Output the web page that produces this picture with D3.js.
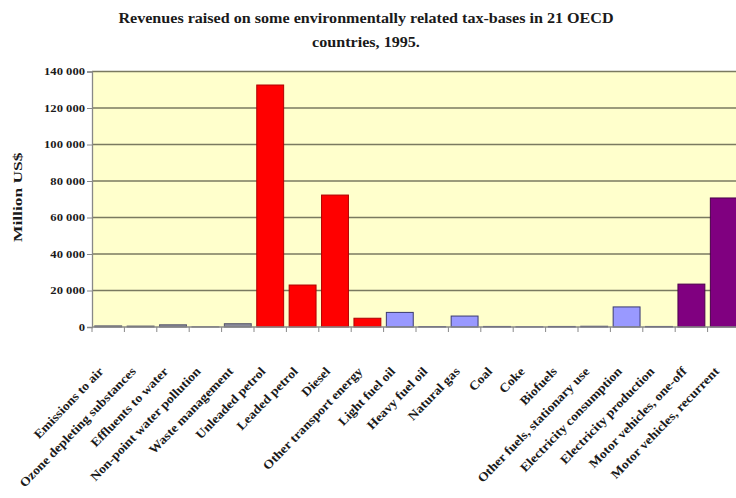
<!DOCTYPE html>
<html>
<head>
<meta charset="utf-8">
<script src="https://cdn.jsdelivr.net/npm/d3@7"></script>
<style>
  html, body { margin: 0; padding: 0; background: #ffffff; }
  svg { display: block; }
  text { font-family: "Liberation Serif", "Times New Roman", serif; font-weight: bold; fill: #1a1a1a; }
</style>
</head>
<body>
<svg id="chart" width="736" height="498"></svg>
<script>
// Tax bases (x categories)
const categories = [
  "Emissions to air", "Ozone depleting substances", "Effluents to water",
  "Non-point  water pollution", "Waste management", "Unleaded petrol",
  "Leaded petrol", "Diesel", "Other transport energy", "Light fuel oil",
  "Heavy fuel oil", "Natural gas", "Coal", "Coke", "Biofuels",
  "Other fuels, stationary use", "Electricity consumption",
  "Electricity production", "Motor vehicles, one-off", "Motor vehicles, recurrent"
];

// Revenues, million US$
const revenues = [
  600, 500, 1200, 100, 1800, 132600,
  23000, 72300, 4800, 8000,
  200, 6000, 300, 100, 300,
  400, 11000,
  300, 23500, 70700
];

// Group of each tax base, used for bar colour
const groups = [
  "pollution", "pollution", "pollution", "pollution", "pollution", "transport",
  "transport", "transport", "transport", "stationary",
  "stationary", "stationary", "stationary", "stationary", "stationary",
  "stationary", "stationary",
  "stationary", "vehicles", "vehicles"
];

const yTicks = [0, 20000, 40000, 60000, 80000, 100000, 120000, 140000];

const titleLines = [
  "Revenues raised on some environmentally related tax-bases in 21 OECD",
  "countries, 1995."
];
const yTitle = "Million US$";

const fills = { pollution: "#8a8a9a", transport: "#ff0000", stationary: "#9999ff", vehicles: "#800080" };
const strokes = { pollution: "#55556a", transport: "#b00000", stationary: "#3a3a70", vehicles: "#4a004a" };

const svg = d3.select("#chart");
const plot = { left: 92, right: 740, top: 71.5, bottom: 327 };

// Widen a text element along its baseline by a factor
function stretch(sel, factor) {
  sel.each(function () {
    const len = this.getComputedTextLength();
    d3.select(this).attr("textLength", len * factor).attr("lengthAdjust", "spacingAndGlyphs");
  });
}

const x = d3.scaleBand()
  .domain(categories)
  .range([plot.left, plot.right])
  .paddingInner(0.17)
  .paddingOuter(0.085);

const y = d3.scaleLinear()
  .domain([0, 140000])
  .range([plot.bottom, plot.top]);

const fmt = d3.formatLocale({ decimal: ".", thousands: " ", grouping: [3], currency: ["", ""] }).format(",");

// Plot background
svg.append("rect")
  .attr("x", plot.left).attr("y", plot.top)
  .attr("width", plot.right - plot.left).attr("height", plot.bottom - plot.top)
  .attr("fill", "#ffffcc");

// Horizontal gridlines
svg.append("g")
  .selectAll("line")
  .data(yTicks.filter(d => d > 0))
  .join("line")
  .attr("x1", plot.left).attr("x2", plot.right)
  .attr("y1", d => y(d)).attr("y2", d => y(d))
  .attr("stroke", "#7a7a60")
  .attr("stroke-width", 1.3);

// Bars
svg.append("g")
  .selectAll("rect")
  .data(categories)
  .join("rect")
  .attr("x", d => x(d))
  .attr("width", x.bandwidth())
  .attr("y", (d, i) => y(revenues[i]))
  .attr("height", (d, i) => y(0) - y(revenues[i]))
  .attr("fill", (d, i) => fills[groups[i]])
  .attr("stroke", (d, i) => strokes[groups[i]])
  .attr("stroke-width", 1);

// Y axis
const yAxis = svg.append("g")
  .attr("transform", `translate(${plot.left},0)`)
  .call(d3.axisLeft(y).tickValues(yTicks).tickFormat(fmt).tickSize(5).tickPadding(2));
yAxis.select(".domain").attr("stroke", "#888888").attr("stroke-width", 1.3);
yAxis.selectAll(".tick line").attr("stroke", "#888888");
yAxis.selectAll(".tick text")
  .attr("font-family", "Liberation Serif, serif")
  .attr("font-weight", "bold")
  .attr("font-size", 10.5)
  .attr("fill", "#1a1a1a")
  .call(stretch, 1.2);

// X axis with ticks on band boundaries
const xAxis = svg.append("g")
  .attr("transform", `translate(0,${plot.bottom})`);
xAxis.append("line")
  .attr("x1", plot.left).attr("x2", plot.right)
  .attr("stroke", "#888888").attr("stroke-width", 1.5);
const bounds = d3.range(categories.length + 1).map(i => plot.left + i * (plot.right - plot.left) / categories.length);
xAxis.selectAll("line.tick")
  .data(bounds)
  .join("line")
  .attr("class", "tick")
  .attr("x1", d => d).attr("x2", d => d)
  .attr("y1", 0).attr("y2", 5)
  .attr("stroke", "#888888");

xAxis.selectAll("text")
  .data(categories)
  .join("text")
  .attr("transform", d => `translate(${x(d) + x.bandwidth() / 2 - 4},${45}) rotate(-46)`)
  .attr("text-anchor", "end")
  .attr("font-size", 12.5)
  .text(d => d)
  .call(stretch, 1.1);

// Y axis title
svg.append("text")
  .attr("transform", `translate(22,${(plot.top + plot.bottom) / 2 - 2}) rotate(-90)`)
  .attr("text-anchor", "middle")
  .attr("font-size", 12)
  .text(yTitle)
  .call(stretch, 1.45);

// Chart title
svg.append("g")
  .selectAll("text")
  .data(titleLines)
  .join("text")
  .attr("x", 366)
  .attr("y", (d, i) => 23 + i * 24)
  .attr("text-anchor", "middle")
  .attr("font-size", 14.5)
  .text(d => d)
  .call(stretch, 1.11);
</script>
</body>
</html>
